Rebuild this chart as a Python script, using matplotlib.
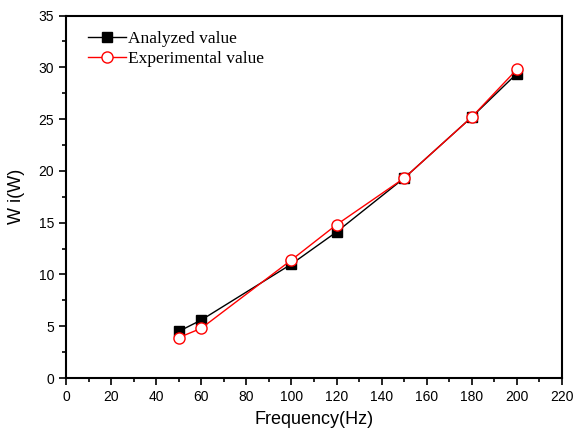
import matplotlib
matplotlib.use("Agg")
import matplotlib.pyplot as plt
from matplotlib.ticker import MultipleLocator

freq = [50, 60, 100, 120, 150, 180, 200]
analyzed = [4.5, 5.6, 11.0, 14.1, 19.3, 25.2, 29.4]
experimental = [3.9, 4.8, 11.4, 14.8, 19.3, 25.2, 29.8]

plt.rcParams['font.family'] = ['Liberation Sans', 'DejaVu Sans']

fig = plt.figure(figsize=(5.73, 4.37), dpi=100)
ax = fig.add_axes([0.1152, 0.135, 0.8656, 0.8295])

ax.plot(freq, analyzed, color='black', lw=1, marker='s', ms=7,
        mfc='black', mec='black', label='Analyzed value')
ax.plot(freq, experimental, color='red', lw=1, marker='o', ms=8,
        mfc='white', mec='red', label='Experimental value')

ax.set_xlim(0, 220)
ax.set_ylim(0, 35)
ax.xaxis.set_major_locator(MultipleLocator(20))
ax.xaxis.set_minor_locator(MultipleLocator(10))
ax.yaxis.set_major_locator(MultipleLocator(5))
ax.yaxis.set_minor_locator(MultipleLocator(2.5))
ax.tick_params(which='major', direction='out', length=5, width=1.2, labelsize=10)
ax.tick_params(which='minor', direction='out', length=3, width=1.2)
for s in ax.spines.values():
    s.set_linewidth(1.5)

ax.set_xlabel('Frequency(Hz)', fontsize=13, labelpad=5)
ax.set_ylabel('W i(W)', fontsize=13, labelpad=10)

ax.legend(loc='upper left', frameon=False, prop={'family': 'Liberation Serif', 'size': 12.5},
          handlelength=2.2, handletextpad=0.1, labelspacing=0.2,
          borderaxespad=0.3, bbox_to_anchor=(0.02, 0.99))

fig.savefig('out.png', dpi=100)
